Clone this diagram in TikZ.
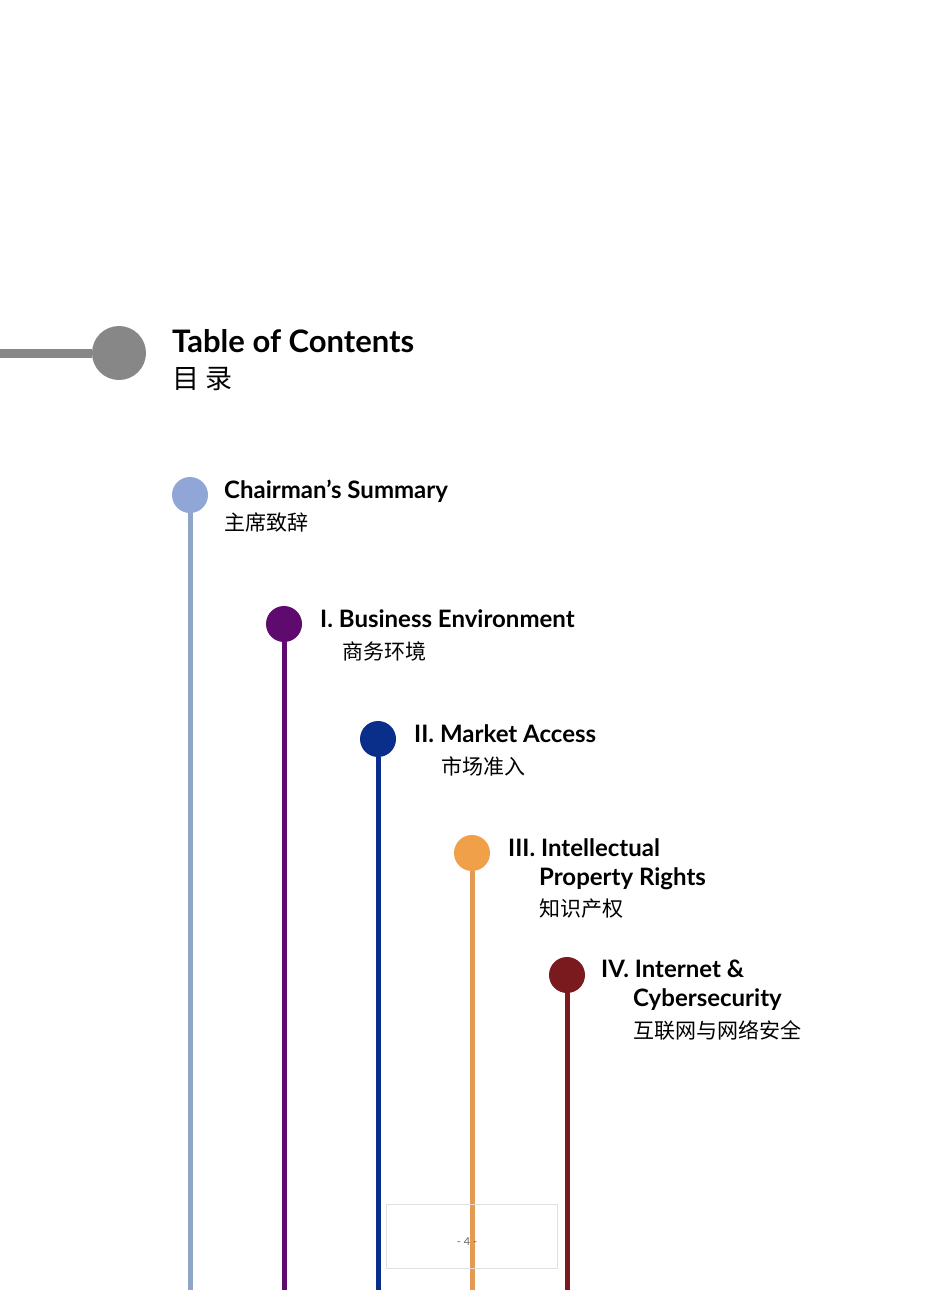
\documentclass[tikz,border=0pt]{standalone}
\usepackage{fontspec}
\setmainfont{Lato}
\newfontfamily\cjk{Noto Sans CJK SC}
\definecolor{cgray}{HTML}{878787}
\definecolor{cA}{HTML}{8FA6D6}
\definecolor{cAl}{HTML}{8FA6C8}
\definecolor{cB}{HTML}{5E0A6E}
\definecolor{cC}{HTML}{0A2F8A}
\definecolor{cD}{HTML}{F0A048}
\definecolor{cDl}{HTML}{E39A52}
\definecolor{cE}{HTML}{7A1A1E}
\tikzset{
 en/.style={anchor=base west,inner sep=0pt,font=\bfseries\fontsize{24}{29}\selectfont,align=left},
 zh/.style={anchor=base west,inner sep=0pt,font=\cjk\fontsize{21}{25}\selectfont},
 dot/.style={circle,minimum size=36pt,inner sep=0pt,fill=#1},
 stem/.style={line width=5pt,draw=#1}
}
\begin{document}
\begin{tikzpicture}[x=1pt,y=-1pt]
\useasboundingbox (0,0) rectangle (950,1290);
\fill[white] (0,0) rectangle (950,1290);
% header
\coordinate (g0) at (0,353);
\node[circle,minimum size=54pt,inner sep=0pt,fill=cgray] (g) at (119,353) {};
\draw[line width=9pt,draw=cgray] (g0) -- (g.west);
\node[anchor=base west,inner sep=0pt,font=\bfseries\fontsize{31}{36}\selectfont] (t) at (172,352) {Table of Contents};
\node[anchor=base west,inner sep=0pt,font=\cjk\fontsize{27}{30}\selectfont] (tz) at (172,388) {目 录};
% stems
\coordinate (e1) at (190,1290);
\coordinate (e2) at (284,1290);
\coordinate (e3) at (378,1290);
\coordinate (e4) at (472,1290);
\coordinate (e5) at (567,1290);
\node[dot=cA] (d1) at (190,495) {};
\node[dot=cB] (d2) at (284,624) {};
\node[dot=cC] (d3) at (378,739) {};
\node[dot=cD] (d4) at (472,853) {};
\node[dot=cE] (d5) at (567,975) {};
\draw[stem=cAl] (d1.south) -- (e1);
\draw[stem=cB] (d2.south) -- (e2);
\draw[stem=cC] (d3.south) -- (e3);
\draw[stem=cDl] (d4.south) -- (e4);
\draw[stem=cE] (d5.south) -- (e5);
% labels
\node[en] (l1) at (224,498) {Chairman’s Summary};
\node[zh] (z1) at (224,530) {主席致辞};
\node[en] (l2) at (320,627) {I. Business Environment};
\node[zh] (z2) at (342,659) {商务环境};
\node[en] (l3) at (414,742) {II. Market Access};
\node[zh] (z3) at (441,774) {市场准入};
\node[en] (l4) at (508,856) {III. Intellectual};
\node[en] (l4b) at (539,885) {Property Rights};
\node[zh] (z4) at (539,916) {知识产权};
\node[en] (l5) at (601,977) {IV. Internet \&};
\node[en] (l5b) at (633,1006) {Cybersecurity};
\node[zh] (z5) at (633,1038) {互联网与网络安全};
% page box
\node[draw=black!12,line width=0.6pt,minimum width=171pt,minimum height=64pt,inner sep=0pt] (pb) at (471.5,1236.5) {};
\node[font=\fontsize{11}{13}\selectfont,text=black!60] (pn) at (467,1242) {- 4 -};
\end{tikzpicture}
\end{document}
